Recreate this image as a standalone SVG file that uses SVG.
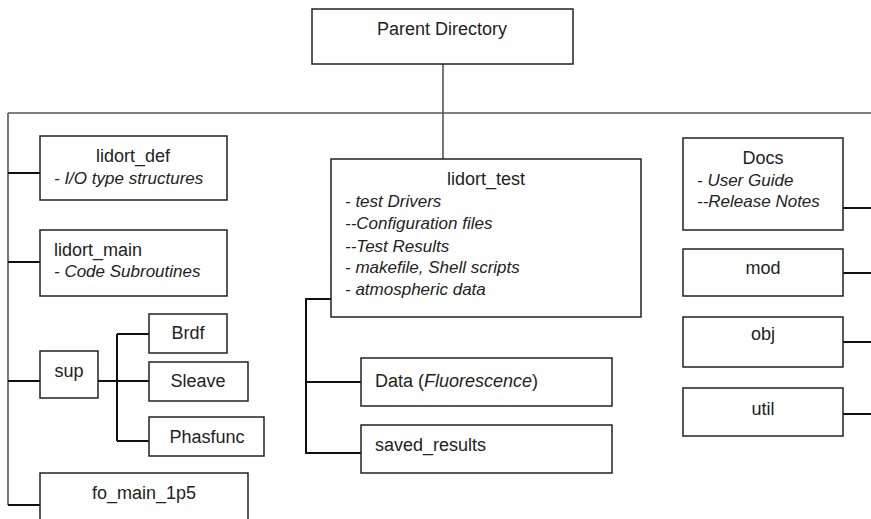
<svg xmlns="http://www.w3.org/2000/svg" width="871" height="519" viewBox="0 0 871 519">
<style>
.box{fill:#fff;stroke:#222;stroke-width:1.5}
.t{font-family:"Liberation Sans",Arial,sans-serif;font-size:18px;fill:#222}
.c{text-anchor:middle}
.i{font-style:italic;font-size:17px}
.trunk{fill:none;stroke:#555;stroke-width:1.6}
.conn{fill:none;stroke:#111;stroke-width:2}
</style>
<rect width="871" height="519" fill="#fff"/>
<g id="connectors">
<path class="trunk" d="M443 64V159M8 113H871M8 113V505"/>
<path class="conn" d="M8 173H40M8 262H40M8 381H40M8 505H40"/>
<path class="conn" d="M98 381H149M117 334V441M117 334H149M117 441H149"/>
<path class="conn" d="M331 299H306V453H361M306 382H361"/>
<path class="conn" d="M843 208H871M843 273H871M843 342H871M843 414H871"/>
</g>
<g id="parent"><rect class="box" x="312" y="9" width="261" height="55"/><text class="t c" x="442" y="35">Parent Directory</text></g>
<g id="lidort_def"><rect class="box" x="40" y="136" width="187" height="64"/><text class="t c" x="133" y="162">lidort_def</text><text class="t i" x="54" y="184">- I/O type structures</text></g>
<g id="lidort_main"><rect class="box" x="40" y="230" width="187" height="66"/><text class="t" x="54" y="256">lidort_main</text><text class="t i" x="54" y="277">- Code Subroutines</text></g>
<g id="sup"><rect class="box" x="40" y="351" width="58" height="47"/><text class="t c" x="69" y="377">sup</text></g>
<g id="brdf"><rect class="box" x="149" y="314" width="78" height="39"/><text class="t c" x="188" y="339">Brdf</text></g>
<g id="sleave"><rect class="box" x="149" y="362" width="99" height="39"/><text class="t c" x="198" y="387">Sleave</text></g>
<g id="phasfunc"><rect class="box" x="149" y="417" width="115" height="39"/><text class="t c" x="207" y="443">Phasfunc</text></g>
<g id="fo_main"><rect class="box" x="40" y="473" width="208" height="60"/><text class="t c" x="144" y="499">fo_main_1p5</text></g>
<g id="lidort_test"><rect class="box" x="331" y="159" width="310" height="158"/><text class="t c" x="486" y="185">lidort_test</text>
<text class="t i" x="345" y="207">- test Drivers</text>
<text class="t i" x="345" y="229">--Configuration files</text>
<text class="t i" x="345" y="252">--Test Results</text>
<text class="t i" x="345" y="273">- makefile, Shell scripts</text>
<text class="t i" x="345" y="295">- atmospheric data</text></g>
<g id="data"><rect class="box" x="361" y="358" width="251" height="48"/><text class="t" x="375" y="387">Data (<tspan font-style="italic">Fluorescence</tspan>)</text></g>
<g id="saved_results"><rect class="box" x="361" y="425" width="251" height="48"/><text class="t" x="375" y="451">saved_results</text></g>
<g id="docs"><rect class="box" x="683" y="138" width="160" height="92"/><text class="t c" x="763" y="164">Docs</text><text class="t i" x="697" y="186">- User Guide</text><text class="t i" x="697" y="207">--Release Notes</text></g>
<g id="mod"><rect class="box" x="683" y="249" width="160" height="47"/><text class="t c" x="763" y="274">mod</text></g>
<g id="obj"><rect class="box" x="683" y="317" width="160" height="50"/><text class="t c" x="763" y="340">obj</text></g>
<g id="util"><rect class="box" x="683" y="388" width="160" height="48"/><text class="t c" x="763" y="415">util</text></g>
</svg>
